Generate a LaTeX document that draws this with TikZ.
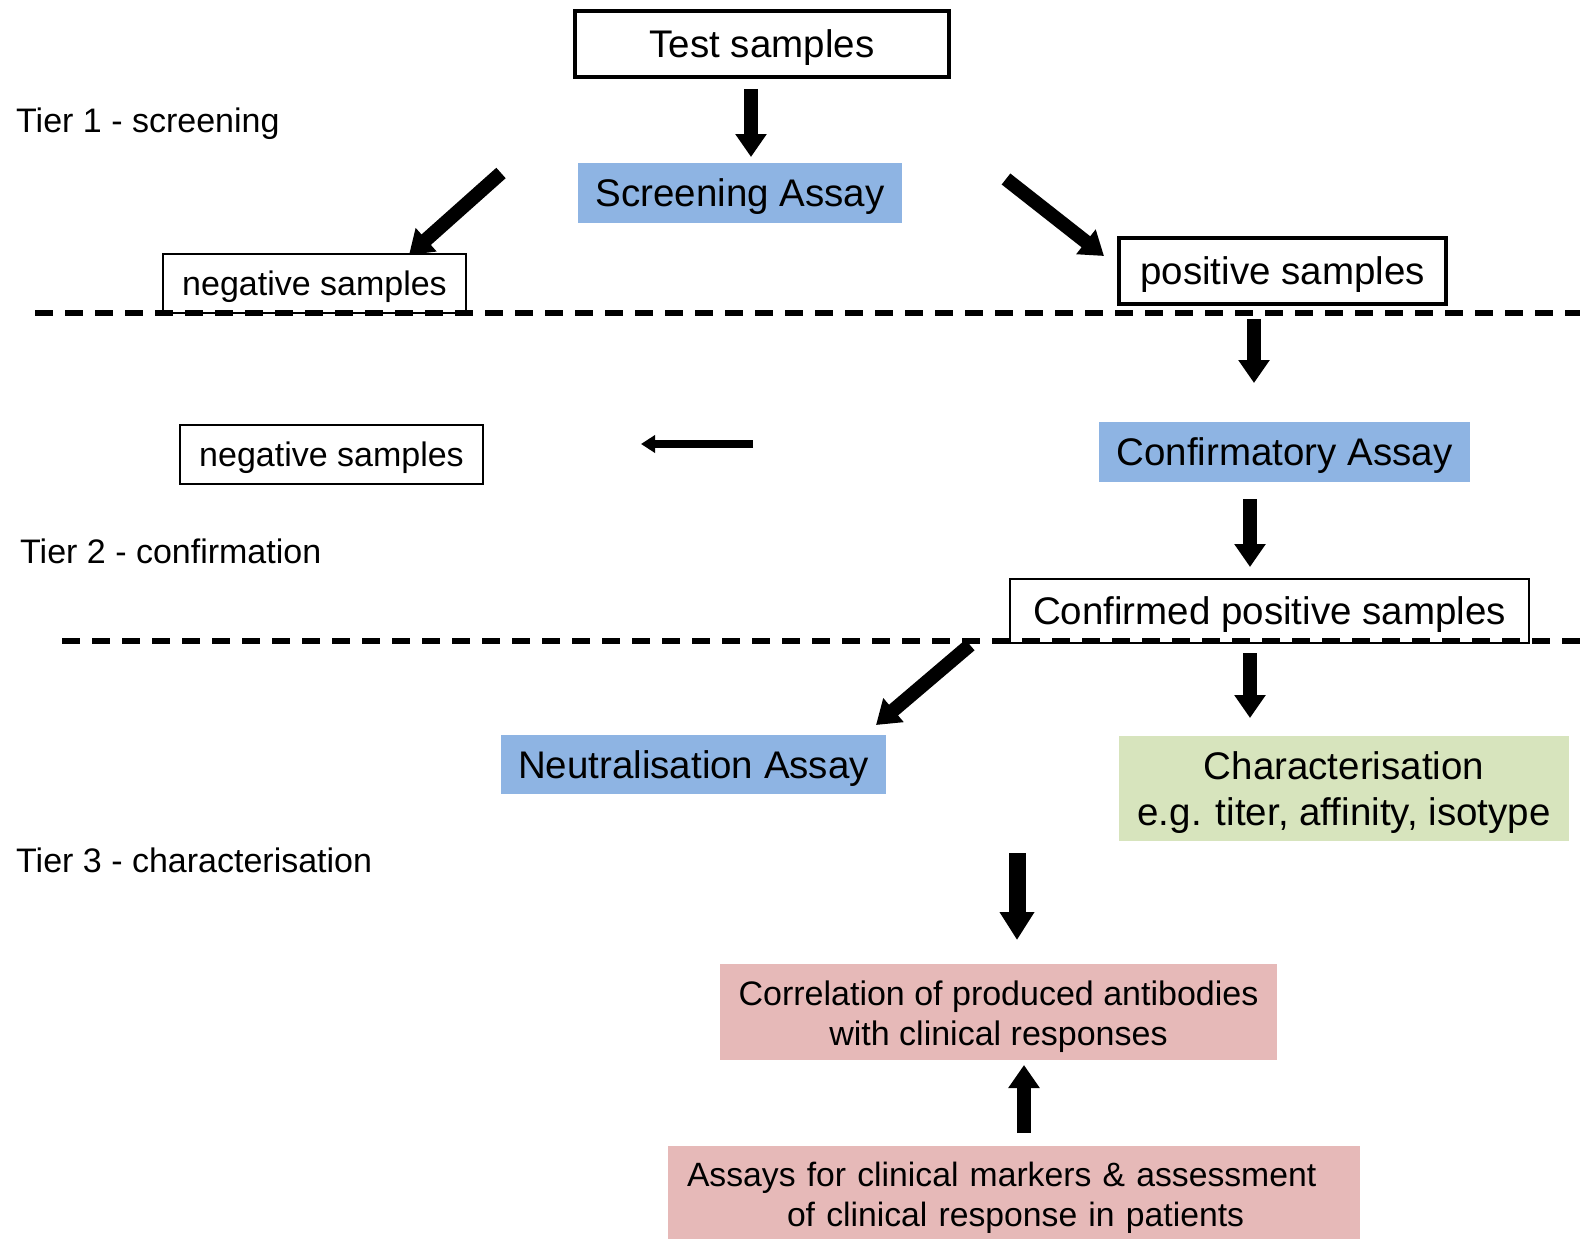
\documentclass[tikz,border=0pt]{standalone}
\usepackage{fontspec}
\setmainfont{Liberation Sans}
\usetikzlibrary{arrows.meta}
\definecolor{assayblue}{HTML}{8EB4E3}
\definecolor{chargreen}{HTML}{D7E4BD}
\definecolor{clinpink}{HTML}{E6B9B8}
\tikzset{
  bigtxt/.style={font=\fontsize{38.5}{46}\selectfont},
  smalltxt/.style={font=\fontsize{34}{40}\selectfont},
  bigline/.style={bigtxt, inner sep=0pt, text height=27.6pt, text depth=0pt},
  smallline/.style={smalltxt, inner sep=0pt, text height=24.4pt, text depth=0pt},
  thickbox/.style={draw=black, line width=4pt, fill=white},
  thinbox/.style={draw=black, line width=2.5pt, fill=white},
  fillbox/.style={inner sep=0pt, draw=none},
  arr/.style={line width=14pt, -{Triangle[width=30pt,length=23pt]}},
  arrbig/.style={line width=17pt, -{Triangle[width=33pt,length=28pt]}},
  arrthin/.style={line width=8pt, -{Triangle[width=17pt,length=14pt]}},
  divider/.style={line width=6pt, dash pattern=on 18pt off 12pt},
  tier/.style={smalltxt, anchor=west, inner sep=0pt}
}
\begin{document}
\begin{tikzpicture}[x=1pt,y=-1pt]
\useasboundingbox (0,0) rectangle (1580,1239);

% Tier 1
\node[bigline, thickbox, minimum width=374pt, minimum height=66pt] (test) at (762,44) {Test samples};
\node[bigline, fillbox, fill=assayblue, minimum width=324pt, minimum height=60pt] (screen) at (740,193) {Screening Assay};
\node[smallline, thinbox, minimum width=303pt, minimum height=59pt] (neg1) at (314.5,283.5) {negative samples};
\node[bigline, thickbox, minimum width=327pt, minimum height=66pt] (pos) at (1282.5,271) {positive samples};
\draw[divider] (35,313) coordinate (d1a) -- (1580,313) coordinate (d1b);

\node[tier] (t1) at (16,124) {Tier 1 - screening};

% Tier 2
\node[bigline, fillbox, fill=assayblue, minimum width=371pt, minimum height=60pt] (conf) at (1284.5,452) {Confirmatory Assay};
\node[smallline, thinbox, minimum width=303pt, minimum height=59pt] (neg2) at (331.5,454.5) {negative samples};
\node[tier] (t2) at (20,551) {Tier 2 - confirmation};
\node[bigline, thinbox, minimum width=519pt, minimum height=64pt] (confpos) at (1269.5,611) {Confirmed positive samples};
\draw[divider] (62,641) coordinate (d2a) -- (1580,641) coordinate (d2b);

% Tier 3
\node[bigline, fillbox, fill=assayblue, minimum width=385pt, minimum height=59pt] (neut) at (693.5,764.5) {Neutralisation Assay};
\node[fillbox, fill=chargreen, bigtxt, minimum width=450pt, minimum height=105pt, align=center] (charac) at (1344,788.5) {\rule{0pt}{36pt}Characterisation\\e.g. titer, affinity, isotype};
\node[tier] (t3) at (16,860) {Tier 3 - characterisation};
\node[fillbox, fill=clinpink, smalltxt, minimum width=557pt, minimum height=96pt, align=center] (corr) at (998.5,1012) {\rule{0pt}{35pt}Correlation of produced antibodies\\with clinical responses};
\node[fillbox, fill=clinpink, font=\fontsize{33.7}{40}\selectfont, minimum width=692pt, minimum height=96pt, inner xsep=19pt, text width=654pt, align=left] (clin) at (1014,1194) {\rule{0pt}{31pt}Assays for clinical markers \& assessment\\\hspace*{100pt}of clinical response in patients};

% connector end points
\coordinate (a1s) at (751,89);   \coordinate (a1e) at (751,157);
\coordinate (a2s) at (501,173);  \coordinate (a2e) at (409,255);
\coordinate (a3s) at (1006,179); \coordinate (a3e) at (1104,256);
\coordinate (a4s) at (1254,319); \coordinate (a4e) at (1254,383);
\coordinate (a5s) at (753,444);  \coordinate (a5e) at (641,444);
\coordinate (a6s) at (1250,499); \coordinate (a6e) at (1250,567);
\coordinate (a7s) at (970,645);  \coordinate (a7e) at (876,725);
\coordinate (a8s) at (1250,653); \coordinate (a8e) at (1250,718);
\coordinate (a9s) at (1017,853); \coordinate (a9e) at (1017,940);
\coordinate (a10s) at (1024,1133); \coordinate (a10e) at (1024,1065);

\draw[arr] (a1s) -- (a1e);
\draw[arr] (a2s) -- (a2e);
\draw[arr] (a3s) -- (a3e);
\draw[arr] (a4s) -- (a4e);
\draw[arrthin] (a5s) -- (a5e);
\draw[arr] (a6s) -- (a6e);
\draw[arr] (a7s) -- (a7e);
\draw[arr] (a8s) -- (a8e);
\draw[arrbig] (a9s) -- (a9e);
\draw[arr] (a10s) -- (a10e);
\end{tikzpicture}
\end{document}
